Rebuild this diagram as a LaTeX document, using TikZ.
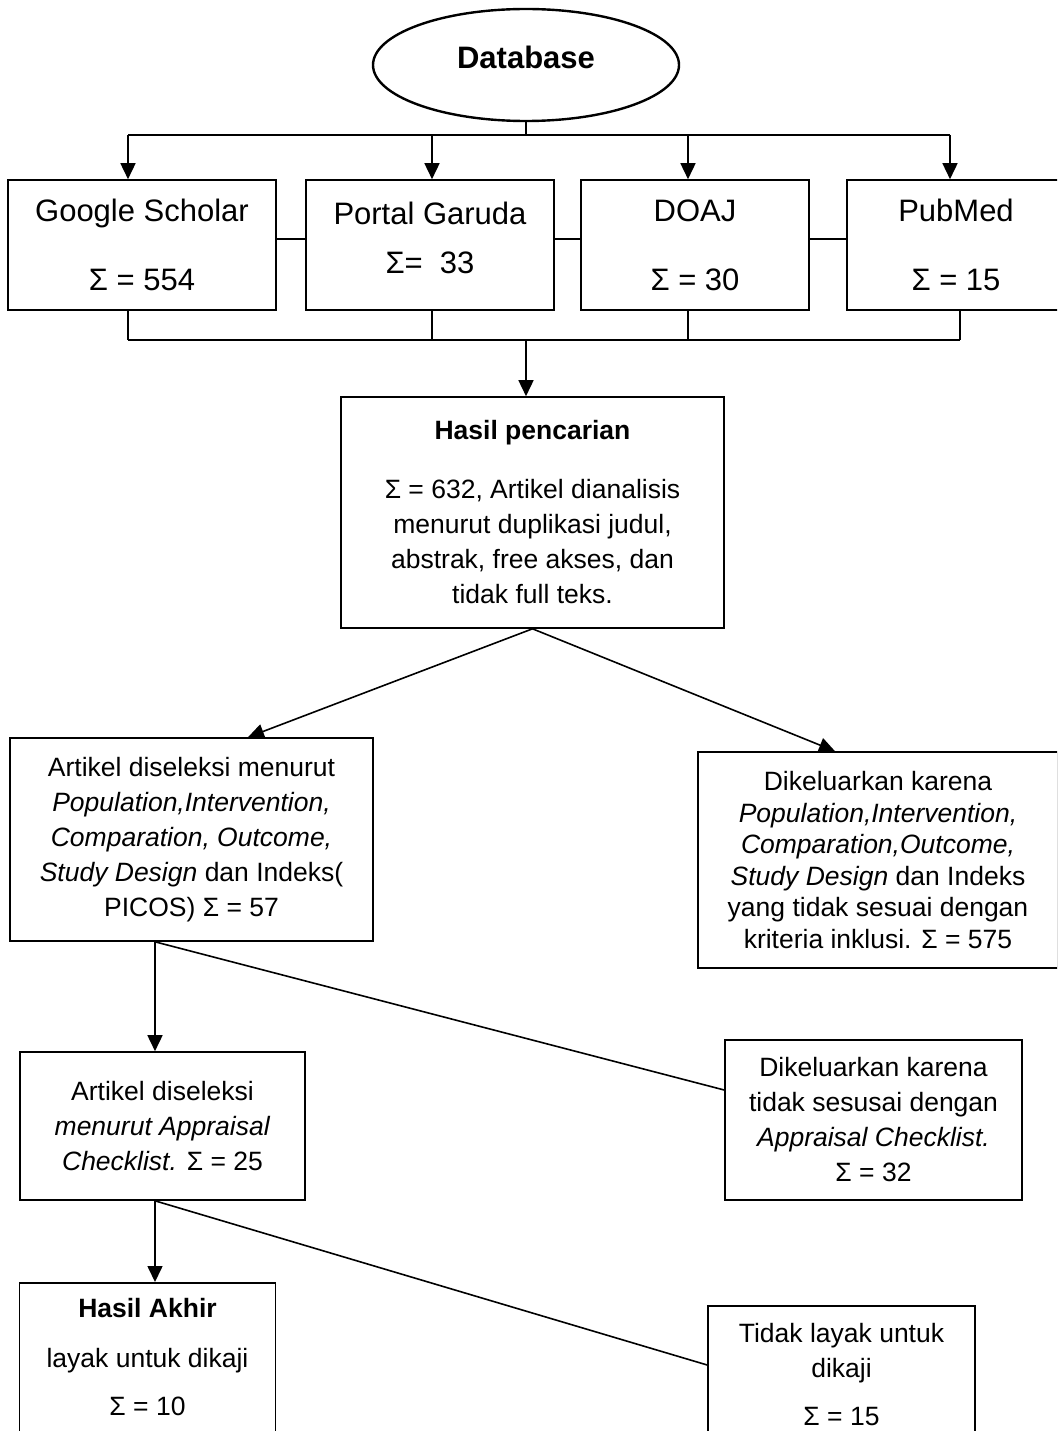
\documentclass[tikz,border=0pt]{standalone}
\usepackage{fontspec}
\setmainfont{Liberation Sans}
\usetikzlibrary{shapes.geometric,arrows.meta,calc}

\begin{document}
\begin{tikzpicture}[x=1pt, y=-1pt, line width=1.6pt,
  start node/.style={draw, ellipse, line width=2.4pt, minimum width=306pt, minimum height=112pt, inner sep=0pt, font=\fontsize{31}{37}\selectfont\bfseries, text depth=16pt},
  top node/.style={draw, rectangle, align=center, minimum height=130pt, font=\fontsize{31}{37}\selectfont},
  main node/.style={draw, rectangle, align=center, font=\fontsize{26.5}{35}\selectfont},
  arrow line/.style={-{Triangle[length=16pt,width=15pt]}}]
  \useasboundingbox (0,0) rectangle (1057,1431);
  \clip (0,0) rectangle (1057,1431);

  \node[start node] (db) at (526,65) {Database};

  \node[top node, minimum width=268pt] (gs) at (142,245) {Google Scholar\\[32pt]Σ = 554};
  \node[top node, minimum width=248pt] (pg) at (430,245) {Portal Garuda\\[12pt]Σ=\ \ 33\\[-23pt]\mbox{}};
  \node[top node, minimum width=228pt] (doaj) at (695,245) {DOAJ\\[32pt]Σ = 30};
  \node[top node, minimum width=218pt] (pm) at (956,245) {PubMed\\[32pt]Σ = 15};

  \node[main node, minimum width=383pt, minimum height=231pt] (hasil) at (532.5,512.5) {\textbf{Hasil pencarian}\\[24pt]Σ = 632, Artikel dianalisis\\menurut duplikasi judul,\\abstrak, free akses, dan\\tidak full teks.};

  \node[main node, minimum width=363pt, minimum height=203pt] (sel1) at (191.5,839.5) {Artikel diseleksi menurut\\\textit{Population,Intervention,}\\\textit{Comparation, Outcome,}\\\textit{Study Design} dan Indeks(\\PICOS) Σ = 57};
  \node[main node, minimum width=360pt, minimum height=216pt, font=\fontsize{26.5}{31.5}\selectfont] (exc1) at (878,860) {Dikeluarkan karena\\\textit{Population,Intervention,}\\\textit{Comparation,Outcome,}\\\textit{Study Design} dan Indeks\\yang tidak sesuai dengan\\kriteria inklusi. Σ = 575};

  \node[main node, minimum width=285pt, minimum height=148pt] (sel2) at (162.5,1126) {Artikel diseleksi\\\textit{menurut Appraisal}\\\textit{Checklist.} Σ = 25};
  \node[main node, minimum width=297pt, minimum height=160pt] (exc2) at (873.5,1120) {Dikeluarkan karena\\tidak sesusai dengan\\\textit{Appraisal Checklist.}\\Σ = 32};

  \node[main node, minimum width=256pt, inner ysep=15pt, anchor=north] (final) at (147.5,1282) {\textbf{Hasil Akhir}\\[15pt]layak untuk dikaji\\[13pt]Σ = 10\\[40pt]\mbox{}};
  \node[main node, minimum width=267pt, inner ysep=17.5pt, anchor=north] (notok) at (841.5,1305) {Tidak layak untuk\\dikaji\\[13pt]Σ = 15\\[40pt]\mbox{}};

  \coordinate (s1) at (128,135);
  \coordinate (s2) at (432,135);
  \coordinate (s3) at (688,135);
  \coordinate (s4) at (950,135);
  \draw (db) -- (db.south |- s1);
  \draw (s1) -- (s4);
  \draw[arrow line] (s1) -- (s1 |- gs.north);
  \draw[arrow line] (s2) -- (s2 |- pg.north);
  \draw[arrow line] (s3) -- (s3 |- doaj.north);
  \draw[arrow line] (s4) -- (s4 |- pm.north);

  \draw ($(gs.east)+(0,-6)$) -- ($(pg.west)+(0,-6)$);
  \draw ($(pg.east)+(0,-6)$) -- ($(doaj.west)+(0,-6)$);
  \draw ($(doaj.east)+(0,-6)$) -- ($(pm.west)+(0,-6)$);

  \coordinate (e1) at (128,340);
  \coordinate (e2) at (432,340);
  \coordinate (e3) at (688,340);
  \coordinate (e4) at (960,340);
  \draw (e1) -- (e4);
  \draw (e1 |- gs.south) -- (e1);
  \draw (e2 |- pg.south) -- (e2);
  \draw (e3 |- doaj.south) -- (e3);
  \draw (e4 |- pm.south) -- (e4);
  \draw[arrow line] (db.south |- e1) -- (db.south |- hasil.north);

  \draw[arrow line] (hasil.south) -- ($(sel1.north)+(56.5,0)$);
  \draw[arrow line] (hasil.south) -- ($(exc1.north)+(-43,0)$);

  \coordinate (k1) at ($(sel1.south)+(-36.5,0)$);
  \draw[arrow line] (k1) -- (k1 |- sel2.north);
  \draw (k1) -- ($(exc2.west)+(0,-30)$);

  \coordinate (k2) at ($(sel2.south)+(-7.5,0)$);
  \draw[arrow line] (k2) -- (k2 |- final.north);
  \draw (k2) -- ($(notok.north west)+(0,60)$);
\end{tikzpicture}
\end{document}
